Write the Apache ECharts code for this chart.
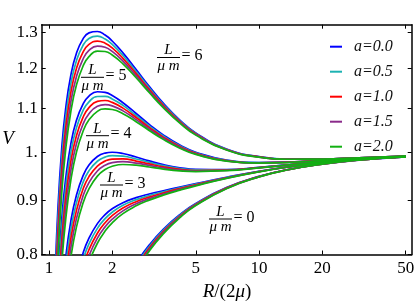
<!DOCTYPE html>
<html><head><meta charset="utf-8">
<script src="https://cdn.jsdelivr.net/npm/echarts@6/dist/echarts.min.js"></script>
<style>html,body{margin:0;padding:0;background:#fff}#c{width:415px;height:302px}</style>
</head><body><div id="c"></div>
<script>
// shared abscissa R/(2mu)
const X = [1.07,1.1,1.15,1.2,1.27,1.35,1.45,1.55,1.7,1.85,2.0,2.25,2.6,3.0,3.5,4.2,5,7,10,14,20,30,50];
const aLabels = ['a=0.0','a=0.5','a=1.0','a=1.5','a=2.0'];
const xTicks = [1,2,5,10,20,50];
const yTicks = [0.8,0.9,1.0,1.1,1.2,1.3];
const yTickLabels = ['0.8','0.9','1.','1.1','1.2','1.3'];
const LValues = [6,5,4,3,0];

// L/(mu m) = 6
const V_L6_a00 = [0.7614,0.8758,1.0090,1.0992,1.1828,1.2408,1.2802,1.2977,1.3016,1.2914,1.2748,1.2423,1.1978,1.1547,1.1131,1.0727,1.0431,1.0073,0.9905,0.9855,0.9856,0.9881,0.9917];
const V_L6_a05 = [0.7414,0.8541,0.9861,1.0764,1.1608,1.2205,1.2620,1.2816,1.2882,1.2802,1.2653,1.2350,1.1925,1.1509,1.1104,1.0709,1.0418,1.0067,0.9902,0.9854,0.9855,0.9881,0.9917];
const V_L6_a10 = [0.7209,0.8318,0.9627,1.0530,1.1385,1.1998,1.2436,1.2653,1.2746,1.2688,1.2557,1.2276,1.1872,1.1471,1.1077,1.0691,1.0406,1.0060,0.9899,0.9852,0.9854,0.9880,0.9917];
const V_L6_a15 = [0.6998,0.8090,0.9388,1.0292,1.1157,1.1787,1.2249,1.2488,1.2609,1.2574,1.2461,1.2203,1.1819,1.1432,1.1050,1.0673,1.0394,1.0054,0.9896,0.9851,0.9854,0.9880,0.9917];
const V_L6_a20 = [0.6780,0.7854,0.9141,1.0047,1.0924,1.1573,1.2059,1.2321,1.2471,1.2459,1.2364,1.2128,1.1766,1.1394,1.1023,1.0655,1.0381,1.0048,0.9893,0.9849,0.9853,0.9880,0.9917];
// L/(mu m) = 5
const V_L5_a00 = [0.6500,0.7487,0.8642,0.9434,1.0181,1.0716,1.1104,1.1305,1.1412,1.1395,1.1319,1.1142,1.0883,1.0628,1.0386,1.0158,1.0000,0.9831,0.9779,0.9789,0.9823,0.9866,0.9912];
const V_L5_a05 = [0.6330,0.7301,0.8446,0.9238,0.9992,1.0541,1.0946,1.1164,1.1294,1.1296,1.1235,1.1077,1.0835,1.0593,1.0361,1.0141,0.9988,0.9825,0.9776,0.9787,0.9822,0.9866,0.9912];
const V_L5_a10 = [0.6155,0.7111,0.8246,0.9038,0.9799,1.0362,1.0786,1.1022,1.1175,1.1196,1.1150,1.1011,1.0787,1.0558,1.0336,1.0124,0.9976,0.9819,0.9773,0.9786,0.9821,0.9865,0.9912];
const V_L5_a15 = [0.5975,0.6915,0.8040,0.8833,0.9603,1.0180,1.0624,1.0878,1.1055,1.1095,1.1065,1.0945,1.0739,1.0523,1.0311,1.0107,0.9964,0.9813,0.9770,0.9784,0.9820,0.9865,0.9912];
const V_L5_a20 = [0.5789,0.6713,0.7830,0.8623,0.9403,0.9995,1.0459,1.0733,1.0934,1.0994,1.0979,1.0878,1.0690,1.0488,1.0285,1.0090,0.9953,0.9807,0.9767,0.9783,0.9820,0.9865,0.9911];
// L/(mu m) = 4
const V_L4_a00 = [null,0.6256,0.7245,0.7935,0.8601,0.9101,0.9491,0.9724,0.9908,0.9982,1.0000,0.9973,0.9897,0.9813,0.9734,0.9668,0.9633,0.9629,0.9675,0.9734,0.9795,0.9854,0.9907];
const V_L4_a05 = [null,0.6101,0.7081,0.7770,0.8442,0.8952,0.9356,0.9604,0.9806,0.9895,0.9926,0.9914,0.9854,0.9781,0.9711,0.9652,0.9622,0.9623,0.9672,0.9733,0.9795,0.9853,0.9907];
const V_L4_a10 = [null,0.5942,0.6913,0.7601,0.8279,0.8800,0.9220,0.9482,0.9703,0.9808,0.9851,0.9855,0.9810,0.9748,0.9687,0.9635,0.9610,0.9617,0.9669,0.9731,0.9794,0.9853,0.9907];
const V_L4_a15 = [null,0.5779,0.6741,0.7429,0.8114,0.8646,0.9081,0.9358,0.9599,0.9720,0.9775,0.9796,0.9766,0.9716,0.9663,0.9619,0.9599,0.9611,0.9666,0.9730,0.9793,0.9853,0.9907];
const V_L4_a20 = [null,0.5610,0.6564,0.7253,0.7944,0.8489,0.8940,0.9232,0.9493,0.9630,0.9699,0.9736,0.9722,0.9683,0.9640,0.9603,0.9588,0.9605,0.9663,0.9728,0.9793,0.9852,0.9907];
// L/(mu m) = 3
const V_L3_a00 = [null,null,null,null,0.7136,0.7611,0.8015,0.8290,0.8558,0.8727,0.8839,0.8958,0.9057,0.9129,0.9195,0.9269,0.9338,0.9468,0.9593,0.9691,0.9774,0.9844,0.9904];
const V_L3_a05 = [null,null,null,null,0.7003,0.7487,0.7902,0.8187,0.8470,0.8651,0.8773,0.8906,0.9017,0.9099,0.9173,0.9253,0.9327,0.9463,0.9590,0.9690,0.9774,0.9844,0.9904];
const V_L3_a10 = [null,null,null,null,0.6869,0.7360,0.7786,0.8083,0.8380,0.8574,0.8707,0.8853,0.8977,0.9068,0.9150,0.9238,0.9316,0.9457,0.9587,0.9689,0.9773,0.9844,0.9904];
const V_L3_a15 = [null,null,null,null,0.6731,0.7231,0.7669,0.7977,0.8290,0.8497,0.8640,0.8799,0.8937,0.9038,0.9128,0.9222,0.9305,0.9451,0.9585,0.9687,0.9772,0.9843,0.9904];
const V_L3_a20 = [null,null,null,null,0.6591,0.7099,0.7550,0.7870,0.8199,0.8419,0.8573,0.8746,0.8896,0.9008,0.9106,0.9206,0.9294,0.9446,0.9582,0.9686,0.9771,0.9843,0.9904];
// L/(mu m) = 0
const V_L0_a00 = [null,null,null,null,null,null,null,null,null,null,null,0.7454,0.7845,0.8165,0.8452,0.8729,0.8944,0.9258,0.9487,0.9636,0.9747,0.9832,0.9900];
const V_L0_a05 = [null,null,null,null,null,null,null,null,null,null,null,0.7410,0.7810,0.8138,0.8431,0.8714,0.8934,0.9253,0.9484,0.9635,0.9746,0.9832,0.9899];
const V_L0_a10 = [null,null,null,null,null,null,null,null,null,null,null,0.7366,0.7776,0.8111,0.8411,0.8699,0.8923,0.9247,0.9481,0.9633,0.9745,0.9831,0.9899];
const V_L0_a15 = [null,null,null,null,null,null,null,null,null,null,null,0.7322,0.7741,0.8084,0.8390,0.8685,0.8912,0.9241,0.9478,0.9632,0.9745,0.9831,0.9899];
const V_L0_a20 = [null,null,null,null,null,null,null,null,null,null,null,0.7277,0.7706,0.8057,0.8369,0.8670,0.8902,0.9236,0.9476,0.9630,0.9744,0.9831,0.9899];

const colors = ['#0000ff','#1cb2b2','#ff0000','#8a2a8a','#12b012'];
const byA = [
  [V_L6_a00,V_L5_a00,V_L4_a00,V_L3_a00,V_L0_a00],
  [V_L6_a05,V_L5_a05,V_L4_a05,V_L3_a05,V_L0_a05],
  [V_L6_a10,V_L5_a10,V_L4_a10,V_L3_a10,V_L0_a10],
  [V_L6_a15,V_L5_a15,V_L4_a15,V_L3_a15,V_L0_a15],
  [V_L6_a20,V_L5_a20,V_L4_a20,V_L3_a20,V_L0_a20]
];

const SERIF = '"Liberation Serif","Times New Roman",serif';
const series = [];
byA.forEach((group, j) => {
  group.forEach(arr => {
    series.push({
      type: 'line', name: aLabels[j], xAxisIndex: 0, yAxisIndex: 0,
      data: X.map((x, i) => [x, arr[i]]).filter(p => p[1] != null),
      showSymbol: false, symbol: 'none', smooth: 0.5,
      lineStyle: { color: colors[j], width: 1.7 }, itemStyle: { color: colors[j] },
      silent: true, clip: true
    });
  });
});

const frameLine = { show: true, onZero: false, lineStyle: { color: '#000', width: 1.5 } };
function xAx(pos, labels) {
  return {
    type: 'log', logBase: 10, min: 0.923, max: 53.4, position: pos,
    axisLine: frameLine,
    axisTick: { show: true, inside: true, length: 4, customValues: xTicks, lineStyle: { color: '#000', width: 1 } },
    axisLabel: { show: labels, customValues: xTicks, margin: 6, fontFamily: SERIF, fontSize: 17, color: '#000',
      formatter: v => String(Math.round(v)) },
    splitLine: { show: false }, minorTick: { show: false }
  };
}
function yAx(pos, labels) {
  return {
    type: 'log', logBase: 10, min: 0.8, max: 1.321, position: pos,
    axisLine: frameLine,
    axisTick: { show: true, inside: true, length: 4, customValues: yTicks, lineStyle: { color: '#000', width: 1 } },
    axisLabel: { show: labels, customValues: yTicks, margin: 4, fontFamily: SERIF, fontSize: 17, color: '#000',
      formatter: v => { let k = 0; yTicks.forEach((t, i) => { if (Math.abs(t - v) < Math.abs(yTicks[k] - v)) k = i; }); return yTickLabels[k]; } },
    splitLine: { show: false }, minorTick: { show: false }
  };
}

// fraction labels "L/(mu m) = N": [bar left px, bar y px]
const fracPos = [[157,57.5],[81,77.3],[86,135.7],[100,185],[209,219]];
const barW = 23;
const graphics = [];
LValues.forEach((L, k) => {
  const [bx, by] = fracPos[k];
  graphics.push({ type: 'text', style: { text: 'L', x: bx + barW / 2, y: by - 7, align: 'center', verticalAlign: 'middle', fontFamily: SERIF, fontStyle: 'italic', fontSize: 15, fill: '#000' } });
  graphics.push({ type: 'line', shape: { x1: bx, y1: by, x2: bx + barW, y2: by }, style: { stroke: '#000', lineWidth: 1 } });
  graphics.push({ type: 'text', style: { text: 'μ m', x: bx + barW / 2, y: by + 8.5, align: 'center', verticalAlign: 'middle', fontFamily: SERIF, fontStyle: 'italic', fontSize: 15, fill: '#000' } });
  graphics.push({ type: 'text', style: { text: '= ' + L, x: bx + barW + 1.5, y: by - 1.5, align: 'left', verticalAlign: 'middle', fontFamily: SERIF, fontSize: 16, fill: '#000' } });
});
graphics.push({ type: 'text', style: { text: 'V', x: 8, y: 139, align: 'center', verticalAlign: 'middle', fontFamily: SERIF, fontStyle: 'italic', fontSize: 19, fill: '#000' } });
graphics.push({ type: 'text', style: { text: '{i|R}/(2{i|μ})', x: 227, y: 292, align: 'center', verticalAlign: 'middle', fontFamily: SERIF, fontSize: 19, fill: '#000',
  rich: { i: { fontFamily: SERIF, fontStyle: 'italic', fontSize: 19, fill: '#000' } } } });

const chart = echarts.init(document.getElementById('c'), null, { renderer: 'canvas' });
chart.setOption({
  animation: false,
  backgroundColor: '#fff',
  grid: { left: 41.7, right: 3.3, top: 24.7, bottom: 47.5, containLabel: false, outerBoundsMode: 'none' },
  xAxis: [xAx('bottom', true), xAx('top', false)],
  yAxis: [yAx('left', true), yAx('right', false)],
  legend: {
    data: aLabels, orient: 'vertical', left: 325, top: 33.7, itemWidth: 12, itemHeight: 2, itemGap: 9,
    icon: 'rect', selectedMode: false,
    textStyle: { fontFamily: SERIF, fontStyle: 'italic', fontSize: 16, color: '#111', padding: [0, 0, 0, 7] }
  },
  series: series,
  graphic: graphics
});
</script></body></html>
